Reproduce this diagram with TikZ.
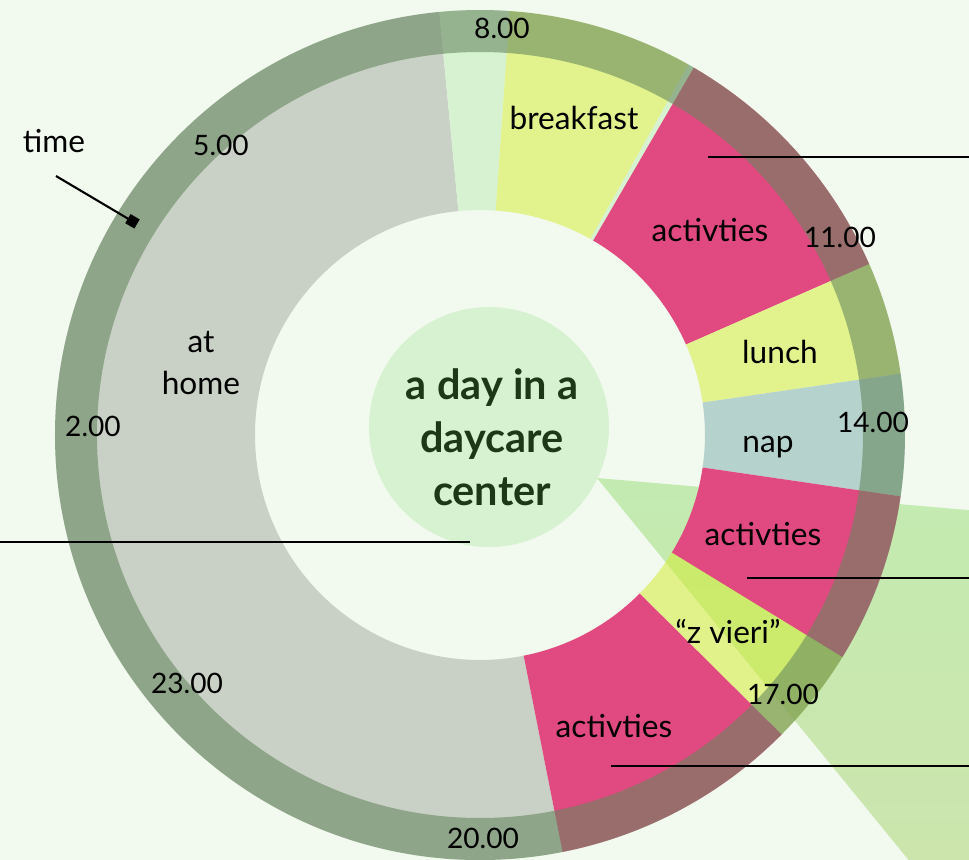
\documentclass[tikz,border=0pt]{standalone}
\usepackage{fontspec}
\setmainfont{Lato}
\usetikzlibrary{arrows.meta}

\begin{document}
\begin{tikzpicture}
  \definecolor{bgcol}{RGB}{242,249,238}
  \definecolor{homecol}{RGB}{201,208,197}
  \definecolor{actcol}{RGB}{224,74,128}
  \definecolor{mealcol}{RGB}{226,242,140}
  \definecolor{napcol}{RGB}{181,210,204}
  \definecolor{palecol}{RGB}{214,242,208}
  \definecolor{snackcol}{RGB}{210,236,42}
  \definecolor{ringcol}{RGB}{101,135,95}
  \definecolor{wedgetop}{RGB}{195,235,177}
  \definecolor{wedgebot}{RGB}{204,229,173}
  \definecolor{titlecol}{RGB}{28,56,22}

  \tikzset{
    seglabel/.style={font=\fontsize{9}{12}\selectfont,align=center,inner sep=0pt},
    timelabel/.style={font=\fontsize{8}{9}\selectfont,inner sep=0pt},
    titletext/.style={font=\fontsize{11.8}{15.1}\selectfont\bfseries,text=titlecol,align=center},
    leader/.style={draw=black,line width=0.6pt},
    pointer/.style={draw=black,line width=0.6pt,-{Square[length=3pt,width=3pt]}},
    ringband/.style={fill=ringcol,fill opacity=0.58,even odd rule}
  }

  \useasboundingbox (-4.80,-4.24) rectangle (4.89,4.35);
  \fill[bgcol] (-4.90,-4.34) rectangle (4.99,4.45);

  % ---------------- wedge behind the ring ----------------
  \shade[top color=wedgetop,bottom color=wedgebot]
    (1.17,-0.43) -- (4.99,-0.76) -- (4.99,-4.34) -- (4.36,-4.34) -- cycle;

  % ---------------- day segments (r = 2.25 .. 4.25) ----------------
  % at home
  \fill[homecol] (95.5:2.25) arc[start angle=95.5,end angle=281.2,radius=2.25]
    -- (281.2:4.25) arc[start angle=281.2,end angle=95.5,radius=4.25] -- cycle;
  % arrival
  \fill[palecol] (86:2.25) arc[start angle=86,end angle=95.5,radius=2.25]
    -- (95.5:4.25) arc[start angle=95.5,end angle=86,radius=4.25] -- cycle;
  % breakfast
  \fill[mealcol] (60.6:2.25) arc[start angle=60.6,end angle=86,radius=2.25]
    -- (86:4.25) arc[start angle=86,end angle=60.6,radius=4.25] -- cycle;
  \fill[palecol] (59.8:2.25) arc[start angle=59.8,end angle=60.6,radius=2.25]
    -- (60.6:4.25) arc[start angle=60.6,end angle=59.8,radius=4.25] -- cycle;
  % morning activities
  \fill[actcol] (23.7:2.25) arc[start angle=23.7,end angle=59.8,radius=2.25]
    -- (59.8:4.25) arc[start angle=59.8,end angle=23.7,radius=4.25] -- cycle;
  % lunch
  \fill[mealcol] (8.3:2.25) arc[start angle=8.3,end angle=23.7,radius=2.25]
    -- (23.7:4.25) arc[start angle=23.7,end angle=8.3,radius=4.25] -- cycle;
  % nap
  \fill[napcol] (-8.3:2.25) arc[start angle=-8.3,end angle=8.3,radius=2.25]
    -- (8.3:4.25) arc[start angle=8.3,end angle=-8.3,radius=4.25] -- cycle;
  % afternoon activities
  \fill[actcol] (-31.5:2.25) arc[start angle=-31.5,end angle=-8.3,radius=2.25]
    -- (-8.3:4.25) arc[start angle=-8.3,end angle=-31.5,radius=4.25] -- cycle;
  % z vieri (see-through, the wedge shows)
  \fill[snackcol,fill opacity=0.5] (-44.8:2.25) arc[start angle=-44.8,end angle=-31.5,radius=2.25]
    -- (-31.5:4.25) arc[start angle=-31.5,end angle=-44.8,radius=4.25] -- cycle;
  % evening activities
  \fill[actcol] (-78.8:2.25) arc[start angle=-78.8,end angle=-44.8,radius=2.25]
    -- (-44.8:4.25) arc[start angle=-44.8,end angle=-78.8,radius=4.25] -- cycle;

  % time ring
  \fill[ringband] (0,0) circle (4.25) (0,0) circle (3.83);

  % hub
  \node[circle,fill=palecol,minimum size=2.40cm,inner sep=0pt] (hub) at (0.09,0.08) {};
  \node[titletext] (title) at (0.12,-0.02) {a day in a\\daycare\\center};

  % ---------------- labels ----------------
  \node[seglabel] (home) at (-2.79,0.72) {at\\home};
  \node[seglabel] (breakfast) at (0.94,3.17) {breakfast};
  \node[seglabel] (actmorning) at (2.30,2.05) {activties};
  \node[seglabel] (lunch) at (3.00,0.83) {lunch};
  \node[seglabel] (nap) at (2.88,-0.12) {nap};
  \node[seglabel] (actafternoon) at (2.83,-0.99) {activties};
  \node[seglabel] (zvieri) at (2.48,-1.97) {“z vieri”};
  \node[seglabel] (actevening) at (1.34,-2.91) {activties};
  \node[seglabel] (time) at (-4.26,2.94) {time};

  \node[timelabel] (t8) at (0.22,4.07) {8.00};
  \node[timelabel] (t11) at (3.60,1.98) {11.00};
  \node[timelabel] (t14) at (3.93,0.13) {14.00};
  \node[timelabel] (t17) at (3.03,-2.59) {17.00};
  \node[timelabel] (t20) at (0.03,-4.03) {20.00};
  \node[timelabel] (t23) at (-2.93,-2.48) {23.00};
  \node[timelabel] (t2) at (-3.87,0.09) {2.00};
  \node[timelabel] (t5) at (-2.59,2.90) {5.00};

  % ---------------- leader lines ----------------
  \coordinate (morningin) at (2.28,2.78);
  \coordinate (morningout) at (4.95,2.78);
  \coordinate (homein) at (-0.10,-1.07);
  \coordinate (homeout) at (-4.86,-1.07);
  \coordinate (afternoonin) at (2.67,-1.43);
  \coordinate (afternoonout) at (4.95,-1.43);
  \coordinate (eveningin) at (1.31,-3.31);
  \coordinate (eveningout) at (4.95,-3.31);
  \coordinate (timefrom) at (-4.24,2.59);
  \coordinate (timeto) at (-3.43,2.11);

  \draw[leader] (morningin) -- (morningout);
  \draw[leader] (homeout) -- (homein);
  \draw[leader] (afternoonin) -- (afternoonout);
  \draw[leader] (eveningin) -- (eveningout);
  \draw[pointer] (timefrom) -- (timeto);
\end{tikzpicture}
\end{document}
